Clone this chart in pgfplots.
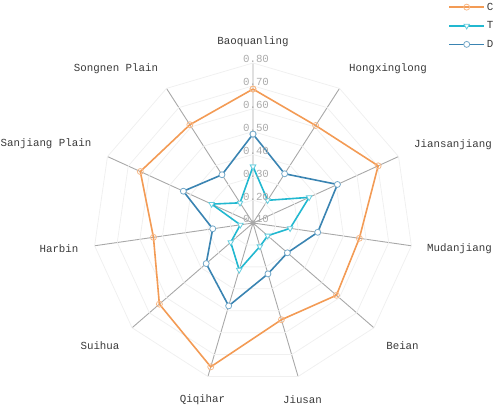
\documentclass[border=0pt]{standalone}
\usepackage{fontspec}
\setmainfont{Liberation Mono}
\usepackage{pgfplots}
\pgfplotsset{compat=1.18}
\usepgfplotslibrary{polar}
\usepackage{pgfplotstable}
\usetikzlibrary{calc}

\definecolor{cC}{HTML}{F39B55}
\definecolor{cT}{HTML}{22B8D0}
\definecolor{cD}{HTML}{3A84B2}
\definecolor{spoke}{HTML}{A8A8A8}
\definecolor{ring}{HTML}{F0F0F0}
\definecolor{ticktxt}{HTML}{ABABAB}
\definecolor{labtxt}{HTML}{3A3A3A}

% angle (deg), values C, T, D ; last row closes the polygon
\pgfplotstableread{
a        C      T      D
90       0.686  0.347  0.489
57.273   0.607  0.218  0.356
24.545   0.702  0.370  0.506
-8.182   0.570  0.264  0.386
-40.909  0.583  0.185  0.299
-73.636  0.541  0.207  0.332
-106.364 0.756  0.314  0.478
-139.091 0.642  0.229  0.371
-171.818 0.540  0.156  0.278
-204.545 0.642  0.299  0.435
-237.273 0.611  0.205  0.351
-270     0.686  0.347  0.489
}\radar

\begin{document}
\begin{tikzpicture}[font=\fontsize{10.8bp}{13bp}\selectfont]
\begin{polaraxis}[
  width=320bp, height=320bp, scale only axis,
  ymin=0, ymax=0.7,
  xtick={90,57.273,24.545,351.818,319.091,286.364,253.636,220.909,188.182,155.455,122.727},
  xticklabel={\relax},
  ytick=\empty,
  xmajorgrids=true, ymajorgrids=false,
  major x grid style={draw=spoke, line width=0.9bp},
  axis line style={draw=none},
  major tick length=0pt,
  clip=false,
  legend style={at={(1.11,1.195)}, anchor=north west, draw=none, fill=none,
    inner sep=0pt, row sep=6bp, font=\fontsize{10.8bp}{13bp}\selectfont, text=labtxt},
  legend cell align=left,
  legend image code/.code={\draw[#1, mark repeat=2, mark phase=2]
    plot coordinates {(0bp,0bp) (17.5bp,0bp) (35bp,0bp)};},
]
\pgfplotsinvokeforeach{0.1,0.2,0.3,0.4,0.5,0.6,0.7}{
  \addplot[ring, line width=0.8bp, forget plot] table[x=a, y expr=#1] {\radar};
}
\addplot[cC, line width=1.6bp, mark=o, mark size=3bp,
  mark options={fill=white, line width=0.8bp, draw=cC!70}]
  table[x=a, y expr=\thisrow{C}-0.1] {\radar};
\addplot[cT, line width=1.6bp, mark=triangle*, mark size=3.2bp,
  mark options={fill=white, line width=0.8bp, draw=cT!70, rotate=180}]
  table[x=a, y expr=\thisrow{T}-0.1] {\radar};
\addplot[cD, line width=1.6bp, mark=*, mark size=3bp,
  mark options={fill=white, line width=0.8bp, draw=cD!70}]
  table[x=a, y expr=\thisrow{D}-0.1] {\radar};
\legend{C,T,D}
\coordinate (O) at (axis cs:0,0);
\coordinate (Top) at (axis cs:90,0.7);
\end{polaraxis}

\foreach \k/\lab in {0/0.10,1/0.20,2/0.30,3/0.40,4/0.50,5/0.60,6/0.70,7/0.80}
  \node[anchor=base, text=ticktxt, inner sep=0pt, xshift=3bp] at ($(O)!\k/7!(Top)$) {\lab};

\begin{scope}[every node/.style={text=labtxt, inner sep=0pt, anchor=center}]
\node at ($(O)+(0bp,181bp)$) {Baoquanling};
\node at ($(O)+(135bp,154bp)$) {Hongxinglong};
\node at ($(O)+(200bp,78bp)$) {Jiansanjiang};
\node at ($(O)+(206.5bp,-26bp)$) {Mudanjiang};
\node at ($(O)+(149.5bp,-123bp)$) {Beian};
\node at ($(O)+(49.5bp,-177bp)$) {Jiusan};
\node at ($(O)+(-50.5bp,-177bp)$) {Qiqihar};
\node at ($(O)+(-153bp,-123bp)$) {Suihua};
\node at ($(O)+(-194bp,-26bp)$) {Harbin};
\node at ($(O)+(-207bp,79bp)$) {Sanjiang Plain};
\node at ($(O)+(-137bp,154bp)$) {Songnen Plain};
\end{scope}

\pgfresetboundingbox
\path ($(O)+(-253bp,-185bp)$) rectangle ($(O)+(245bp,223bp)$);
\end{tikzpicture}
\end{document}
